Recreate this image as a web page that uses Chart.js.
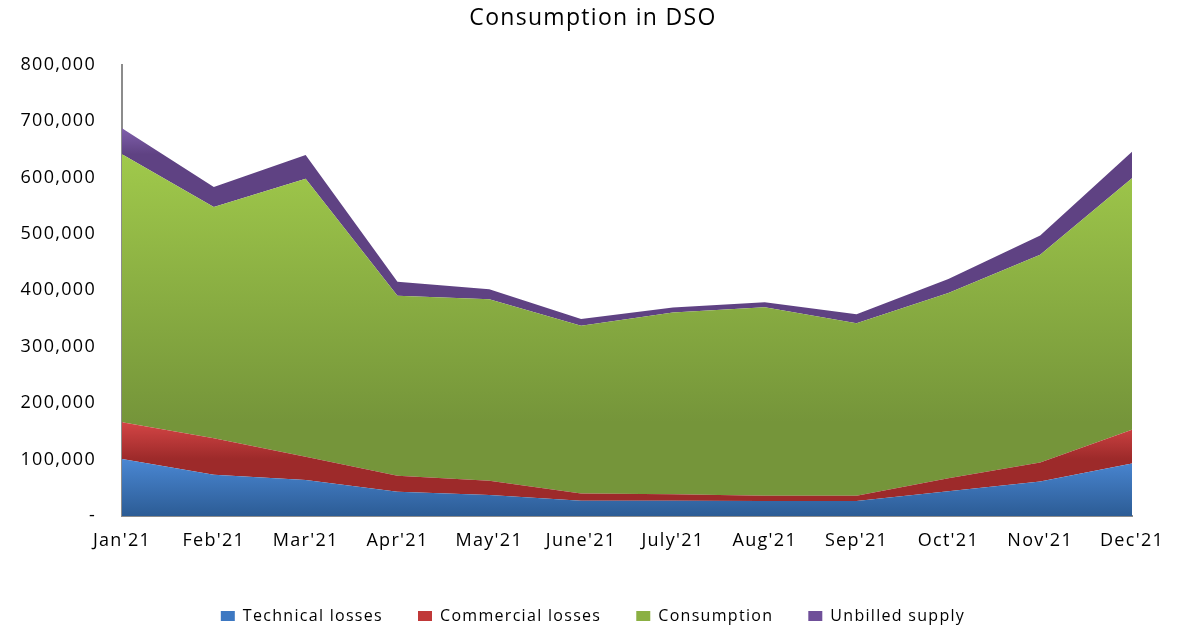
<!DOCTYPE html>
<html>
<head>
<meta charset="utf-8">
<script src="https://cdn.jsdelivr.net/npm/chart.js@4"></script>
<style>
  html, body { margin: 0; padding: 0; background: #ffffff; }
  canvas { display: block; }
</style>
</head>
<body>
<canvas id="c" width="1186" height="627"></canvas>
<script>
const months = ["Jan'21","Feb'21","Mar'21","Apr'21","May'21","June'21","July'21","Aug'21","Sep'21","Oct'21","Nov'21","Dec'21"];
const technicalLosses = [101000, 73000, 64000, 43000, 37000, 27000, 27000, 26500, 26500, 44000, 61000, 93000];
const commercialLosses = [65000, 65000, 41000, 28500, 25500, 13000, 11500, 9500, 9500, 23000, 34000, 60000];
const consumption = [475000, 409500, 492500, 319000, 321500, 297000, 322000, 334000, 305500, 328000, 368000, 445500];
const unbilledSupply = [46000, 35500, 42500, 24500, 18000, 12000, 9000, 9000, 16000, 25000, 34000, 47000];
const yTicks = [0, 100000, 200000, 300000, 400000, 500000, 600000, 700000, 800000];

const seriesList = [technicalLosses, commercialLosses, consumption, unbilledSupply];
const solid = ['#3d78c2', '#c03838', '#8bb043', '#6f4f99'];
const grads = [
  ['#4a87d3', '#2c5c95'],
  ['#d34545', '#9d2a2a'],
  ['#a0c94b', '#75953a'],
  ['#8060ab', '#5f4283']
];

function cumulative(idx) {
  return months.map((_, i) => {
    let s = 0;
    for (let k = 0; k <= idx; k++) s += seriesList[k][i];
    return s;
  });
}

function areaGradient(ctx, idx) {
  const chart = ctx.chart;
  const y = chart.scales.y;
  if (!chart.chartArea || !y) return solid[idx];
  const top = cumulative(idx);
  const bottom = idx === 0 ? months.map(() => 0) : cumulative(idx - 1);
  const yTop = y.getPixelForValue(Math.max(...top));
  const yBot = y.getPixelForValue(Math.max(...bottom));
  const g = chart.ctx.createLinearGradient(0, yTop, 0, Math.max(yBot, yTop + 1));
  g.addColorStop(0, grads[idx][0]);
  g.addColorStop(1, grads[idx][1]);
  return g;
}

const names = ['Technical losses', 'Commercial losses', 'Consumption', 'Unbilled supply'];
const datasets = seriesList.map((arr, idx) => ({
  label: names[idx],
  data: arr,
  yAxisID: 'y',
  fill: idx === 0 ? 'origin' : '-1',
  backgroundColor: (c) => areaGradient(c, idx),
  borderWidth: 0,
  pointRadius: 0,
  pointHoverRadius: 0,
  tension: 0
}));

const spacingPlugin = {
  id: 'spacing',
  beforeInit(chart) { chart.ctx.letterSpacing = '1.3px'; },
  beforeLayout(chart) { chart.ctx.letterSpacing = '1.3px'; },
  beforeDraw(chart) { chart.ctx.letterSpacing = '1.3px'; }
};

const FONT = "'Open Sans', 'DejaVu Sans', sans-serif";

new Chart(document.getElementById('c'), {
  type: 'line',
  data: { labels: months, datasets },
  plugins: [spacingPlugin],
  options: {
    responsive: false,
    animation: false,
    events: [],
    layout: { padding: 0 },
    plugins: {
      title: {
        display: true,
        text: 'Consumption in DSO',
        color: '#000000',
        font: { family: FONT, size: 23, weight: 'normal' },
        padding: { top: 5, bottom: 32 }
      },
      legend: {
        position: 'bottom',
        maxHeight: 54,
        labels: {
          color: '#000000',
          font: { family: FONT, size: 16 },
          boxWidth: 14,
          boxHeight: 10,
          padding: 35,
          generateLabels(chart) {
            const items = Chart.defaults.plugins.legend.labels.generateLabels(chart);
            items.forEach((it, i) => { it.fillStyle = solid[i]; it.strokeStyle = solid[i]; it.lineWidth = 0; });
            return items;
          }
        }
      },
      tooltip: { enabled: false }
    },
    scales: {
      x: {
        offset: false,
        z: 1,
        afterFit(scale) { scale.height = 573 - 516; },
        grid: { display: false, drawTicks: false },
        border: { display: true, color: '#8c8c8c', width: 2 },
        ticks: { color: '#000000', font: { family: FONT, size: 18 }, padding: 14, maxRotation: 0, autoSkip: false }
      },
      y: {
        stacked: true,
        min: 0,
        max: 800000,
        z: 1,
        afterFit(scale) { scale.width = 122; },
        afterBuildTicks(scale) { scale.ticks = yTicks.map(v => ({ value: v })); },
        grid: { display: false, drawTicks: false },
        border: { display: true, color: '#8c8c8c', width: 2 },
        ticks: {
          color: '#000000',
          font: { family: FONT, size: 18 },
          padding: 26,
          callback: (v) => v === 0 ? '-' : v.toLocaleString('en-US')
        }
      },
      yRight: {
        type: 'linear',
        position: 'right',
        display: true,
        afterFit(scale) { scale.width = 54; },
        grid: { display: false, drawTicks: false },
        border: { display: false },
        ticks: { display: false }
      }
    }
  }
});
</script>
</body>
</html>
